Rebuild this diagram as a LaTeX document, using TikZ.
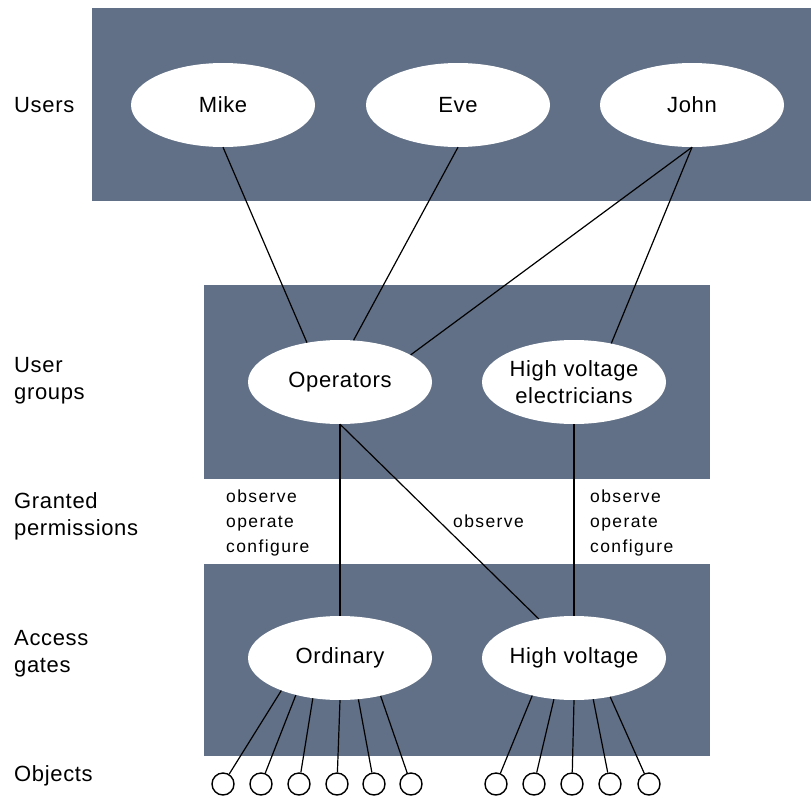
\documentclass[tikz,border=0pt]{standalone}
\usepackage{fontspec}
\setmainfont{Liberation Sans}
\newfontfamily\permfont[LetterSpace=8]{Liberation Sans}
\newfontfamily\nodefont[LetterSpace=3]{Liberation Sans}
\usetikzlibrary{shapes.geometric}
\definecolor{panel}{RGB}{97,112,134}
\tikzset{
  panelbox/.style={fill=panel,draw=none},
  oval/.style={ellipse,fill=white,draw=none,minimum width=184pt,minimum height=84pt,inner sep=0pt,align=center,font=\fontsize{22}{27}\nodefont},
  obj/.style={circle,draw=black,line width=1.4pt,minimum size=22pt,inner sep=0pt,fill=white},
  lbl/.style={anchor=west,align=left,inner sep=0pt,font=\fontsize{22}{27}\nodefont},
  perm/.style={anchor=west,align=left,inner sep=0pt,font=\fontsize{17.5}{25}\permfont},
  thin/.style={draw=black,line width=1.2pt},
  thick/.style={draw=black,line width=2.8pt}
}
\begin{document}
\begin{tikzpicture}[x=1pt,y=-1pt]
\useasboundingbox (0,0) rectangle (811,798);
\fill[panelbox] (92,8) rectangle (811,201);
\fill[panelbox] (204,285) rectangle (710,479);
\fill[panelbox] (204,564) rectangle (710,756);

\node[lbl] (lusers) at (14,105) {Users};
\node[lbl] (lgroups) at (14,381) {User\\groups};
\node[lbl] (lperm) at (14,516) {Granted\\permissions};
\node[lbl] (lgates) at (14,654) {Access\\gates};
\node[lbl] (lobj) at (14,776) {Objects};

\node[oval] (mike) at (223,105) {Mike};
\node[oval] (eve) at (458,105) {Eve};
\node[oval] (john) at (692,105) {John};
\node[oval] (op) at (340,382) {Operators};
\node[oval] (hve) at (574,382) {High voltage\\electricians};
\node[oval] (ord) at (340,658) {Ordinary};
\node[oval] (hv) at (574,658) {High voltage};

\node[perm] (p1) at (226,523) {observe\\operate\\configure};
\node[perm] (p2) at (590,523) {observe\\operate\\configure};
\node[perm] (p3) at (453,521) {observe};

\draw[thin] (mike.south) -- (op.130);
\draw[thin] (eve.south) -- (op.72);
\draw[thin] (john.south) -- (op.21);
\draw[thin] (john.south) -- (hve.46);
\draw[thick] (op.south) -- (ord.north);
\draw[thick] (hve.south) -- (hv.north);
\draw[thin] (op.south) -- (hv.132);

\foreach \i/\x in {1/223,2/261,3/299,4/337,5/374,6/411}{
  \node[obj] (o\i) at (\x,784) {};
}
\foreach \i/\x in {1/496,2/534,3/572,4/610,5/649}{
  \node[obj] (q\i) at (\x,784) {};
}
\draw[thin] (ord.209) -- (o1);
\draw[thin] (ord.220) -- (o2);
\draw[thin] (ord.236) -- (o3);
\draw[thin] (ord.270) -- (o4);
\draw[thin] (ord.294) -- (o5);
\draw[thin] (ord.317) -- (o6);
\draw[thin] (hv.222) -- (q1);
\draw[thin] (hv.244) -- (q2);
\draw[thin] (hv.270) -- (q3);
\draw[thin] (hv.295) -- (q4);
\draw[thin] (hv.313) -- (q5);
\end{tikzpicture}
\end{document}
